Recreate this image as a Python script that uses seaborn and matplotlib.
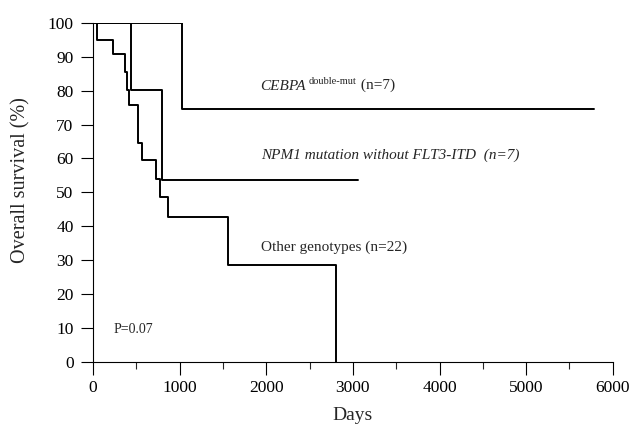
import numpy as np
import matplotlib
matplotlib.use('Agg')
import matplotlib.pyplot as plt
import pandas as pd
import seaborn as sns

# Kaplan-Meier step values (day, survival %)
cebpa_days = [0, 1027, 5780]
cebpa_surv = [100, 74.5, 74.5]

npm1_days = [0, 434, 792, 3060]
npm1_surv = [100, 80.1, 53.6, 53.6]

other_days = [0, 42, 234, 369, 390, 411, 522, 568, 727, 773, 860, 1561, 2803]
other_surv = [100, 95.1, 90.7, 85.5, 80.1, 75.7, 64.6, 59.5, 53.9, 48.7, 42.8, 28.5, 0]

x_ticks = [0, 1000, 2000, 3000, 4000, 5000, 6000]
y_ticks = [0, 10, 20, 30, 40, 50, 60, 70, 80, 90, 100]

sns.set_style('ticks')
plt.rcParams['font.family'] = ['Liberation Serif', 'DejaVu Serif']

fig = plt.figure(figsize=(6.35, 4.3), dpi=100)
ax = fig.add_axes([0.1465, 0.159, 0.8185, 0.7877])

for days, surv in [(cebpa_days, cebpa_surv), (npm1_days, npm1_surv), (other_days, other_surv)]:
    df = pd.DataFrame({'days': days, 'surv': surv})
    sns.lineplot(data=df, x='days', y='surv', ax=ax, color='black', linewidth=1.4,
                 drawstyle='steps-post', estimator=None, sort=False)

ax.set_xlim(0, 6000)
ax.set_ylim(0, 100)
ax.set_xticks(x_ticks)
ax.set_xticks(np.arange(500, 6000, 1000), minor=True)
ax.set_yticks(y_ticks)
ax.tick_params(axis='both', labelsize=12.5, colors='black', width=0.8)
ax.tick_params(axis='x', which='major', length=9, pad=4)
ax.tick_params(axis='x', which='minor', length=5, width=0.8)
ax.tick_params(axis='y', length=9, pad=5)
for s in ['left', 'bottom']:
    ax.spines[s].set_linewidth(0.8)
    ax.spines[s].set_color('black')
sns.despine(ax=ax)

ax.set_xlabel('Days', fontsize=14)
ax.set_ylabel('Overall survival (%)', fontsize=14.5)
ax.xaxis.set_label_coords(0.5, -0.135)
ax.yaxis.set_label_coords(-0.12, 0.536)

# annotations
t1 = ax.text(1935, 81.3, 'CEBPA', style='italic', fontsize=11, ha='left', va='center')
t2 = ax.annotate('double-mut', xy=(1.0, 0.55), xycoords=t1, fontsize=7.5,
                 ha='left', va='bottom', xytext=(2, 0), textcoords='offset points')
ax.annotate(' (n=7)', xy=(1.0, 0.0), xycoords=t2, fontsize=11, ha='left', va='center',
            xytext=(0, 0), textcoords='offset points')
ax.text(1935, 61.0, 'NPM1 mutation without FLT3-ITD  (n=7)', style='italic', fontsize=11,
        ha='left', va='center')
ax.text(1935, 33.9, 'Other genotypes (n=22)', fontsize=11, ha='left', va='center')
ax.text(234, 9.4, 'P=0.07', fontsize=10, ha='left', va='center')

fig.savefig('out.png', dpi=100)
